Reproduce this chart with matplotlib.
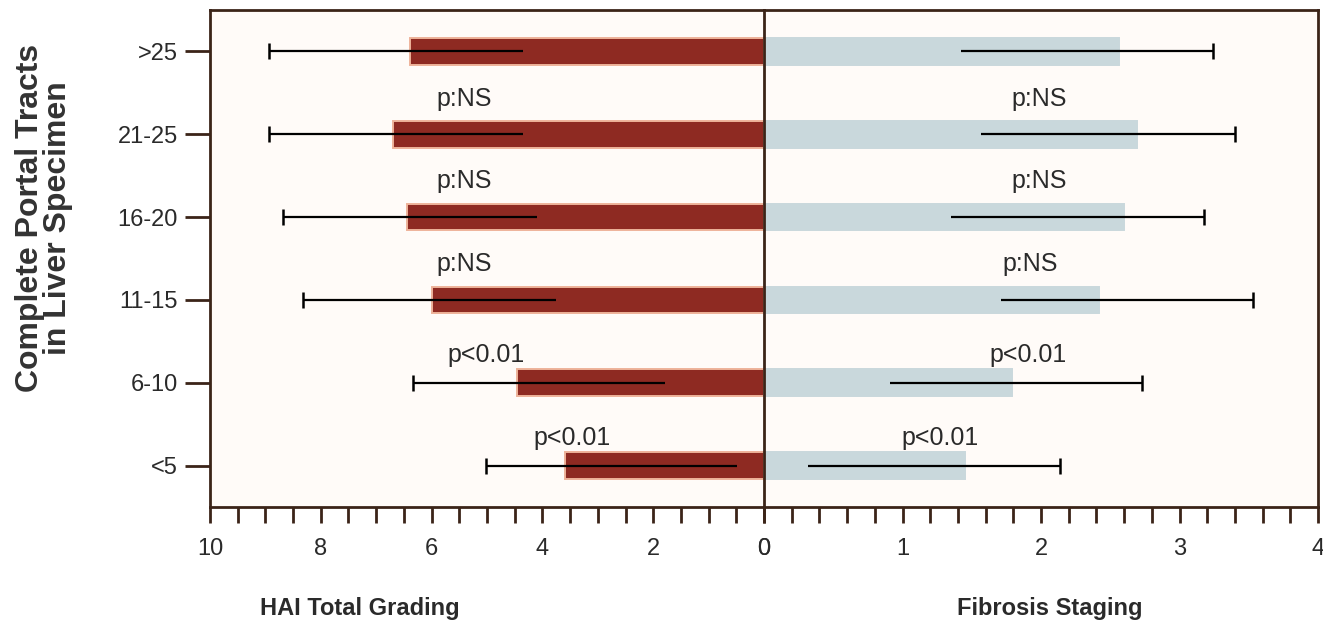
import numpy as np
import matplotlib
matplotlib.use("Agg")
import matplotlib.pyplot as plt

plt.rcParams['font.family'] = ['Liberation Sans', 'DejaVu Sans']

# groups, bottom to top
groups = ['<5', '6-10', '11-15', '16-20', '21-25', '>25']

# HAI total grading: mean, inner end and outer end of the error line
hai_mean = [3.60, 4.45, 6.00, 6.45, 6.70, 6.39]
hai_inner = [0.49, 1.79, 3.75, 4.10, 4.35, 4.35]
hai_outer = [5.01, 6.34, 8.33, 8.68, 8.94, 8.94]

# Fibrosis staging
fib_mean = [1.45, 1.79, 2.42, 2.60, 2.69, 2.56]
fib_inner = [0.32, 0.91, 1.71, 1.35, 1.57, 1.42]
fib_outer = [2.14, 2.73, 3.53, 3.18, 3.40, 3.24]

# p-value labels (one per group except the top one)
p_labels = ['p<0.01', 'p<0.01', 'p:NS', 'p:NS', 'p:NS']
hai_p_x = [3.46, 5.02, 5.42, 5.42, 5.42]
fib_p_x = [1.27, 1.91, 1.92, 1.99, 1.99]

RED = '#8e2a22'
BLUE = '#c9d8dc'
FRAME = '#3b2418'
PANEL_BG = '#fffbf8'
TEXT = '#2a2a2a'

W, H = 1323, 630
fig = plt.figure(figsize=(W / 100, H / 100), dpi=100)
fig.patch.set_facecolor('white')

left, mid, right = 210, 764, 1318
top, bottom = 10, 507
ax1 = fig.add_axes([left / W, 1 - bottom / H, (mid - left) / W, (bottom - top) / H])
ax2 = fig.add_axes([mid / W, 1 - bottom / H, (right - mid) / W, (bottom - top) / H])

y = np.arange(len(groups))
bar_h = 0.32


def draw_panel(ax, mean, inner, outer, color, edge):
    ax.set_facecolor(PANEL_BG)
    ax.barh(y, mean, height=bar_h, color=color, edgecolor=edge, linewidth=1.4, zorder=2)
    ax.hlines(y, inner, outer, color='black', linewidth=1.6, zorder=3)
    ax.plot(outer, y, linestyle='none', marker='|', markersize=11,
            markeredgewidth=1.8, color='black', zorder=3)
    ax.set_ylim(-0.5, len(groups) - 0.5)
    for s in ax.spines.values():
        s.set_color(FRAME)
        s.set_linewidth(2)
    ax.tick_params(axis='x', which='both', direction='out', length=11.5, width=2,
                   color=FRAME, labelsize=17, labelcolor=TEXT, pad=11)


draw_panel(ax1, hai_mean, hai_inner, hai_outer, RED, '#eeb39a')
draw_panel(ax2, fib_mean, fib_inner, fib_outer, BLUE, BLUE)

# left panel: HAI, reversed axis
ax1.set_xlim(10, 0)
ax1.set_xticks(np.arange(0, 11, 2))
ax1.set_xticks(np.arange(0, 10.5, 0.5), minor=True)
ax1.set_yticks(y)
ax1.set_yticklabels(groups, fontsize=17, color=TEXT)
ax1.tick_params(axis='y', direction='out', length=18, width=2, color=FRAME, pad=5)
ax1.spines['right'].set_visible(False)

# right panel: fibrosis
ax2.set_xlim(0, 4)
ax2.set_xticks(np.arange(0, 5, 1))
ax2.set_xticks(np.arange(0, 4.01, 0.2), minor=True)
ax2.set_yticks([])

for i, lab in enumerate(p_labels):
    dy = 0.43 if 'NS' in lab else 0.33
    ax1.text(hai_p_x[i], y[i] + dy, lab, ha='center', va='center', fontsize=18, color=TEXT)
    ax2.text(fib_p_x[i], y[i] + dy, lab, ha='center', va='center', fontsize=18, color=TEXT)

fig.text(360 / W, 1 - 609 / H, 'HAI Total Grading', ha='center', va='center',
         fontsize=17, fontweight='bold', color=TEXT)
fig.text(1050 / W, 1 - 609 / H, 'Fibrosis Staging', ha='center', va='center',
         fontsize=17, fontweight='bold', color=TEXT)
fig.text(44 / W, 1 - 218 / H, 'Complete Portal Tracts\nin Liver Specimen',
         ha='center', va='center', rotation=90, fontsize=23, fontweight='bold',
         color='#333333', linespacing=0.95)

fig.savefig('out.png', dpi=100)
